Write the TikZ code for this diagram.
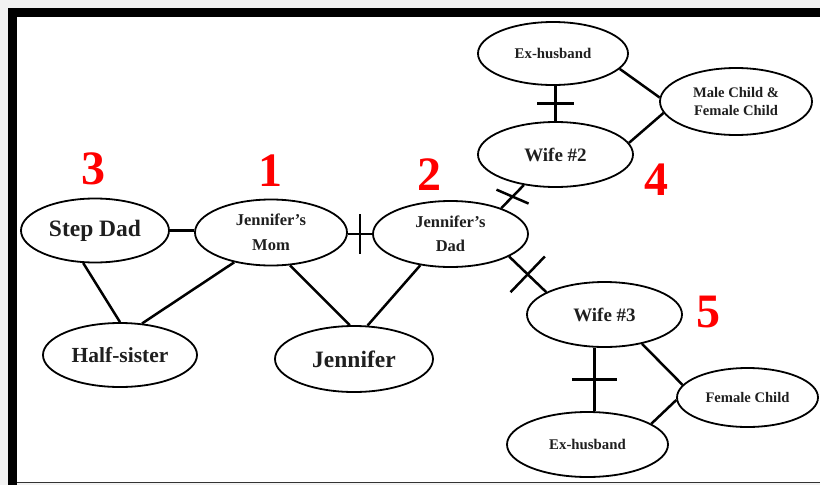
\documentclass[tikz,border=0pt]{standalone}
\usepackage{fontspec}
\setmainfont{Liberation Serif}
\usetikzlibrary{shapes.geometric,calc}
\tikzset{
  person/.style={ellipse, draw=black, line width=1.8pt, fill=white, inner sep=0pt,
    align=center, text=black!88, font=\bfseries},
  link/.style={line width=2.5pt, black},
  num/.style={inner sep=0pt, text=red, font=\bfseries\fontsize{48}{48}\selectfont},
}
\newcommand{\fs}[2]{\fontsize{#1}{#2}\selectfont}
\begin{document}
\begin{tikzpicture}[x=1pt,y=-1pt]
\useasboundingbox (0,0) rectangle (820,485);
% frame
\fill[gray!10] (0,0) rectangle (820,485);
\fill[white] (17,17) rectangle (820,482);
\fill[black] (8,8) rectangle (820,17);
\fill[black] (8,8) rectangle (17,485);
\draw[black!80, line width=1.2pt] (17,482.6) -- (820,482.6);

% nodes
\node[person, minimum width=148, minimum height=64, font=\bfseries\fs{23.5}{26}] (stepdad) at (95,230.5) {Step Dad};
\node[person, minimum width=152, minimum height=66, font=\bfseries\fs{16.5}{25}] (mom) at (271,232.5) {Jennifer’s\\Mom};
\node[person, minimum width=155, minimum height=66, font=\bfseries\fs{16.5}{24}] (dad) at (450.5,234) {Jennifer’s\\Dad};
\node[person, minimum width=154, minimum height=64, font=\bfseries\fs{21.5}{24}] (halfsister) at (120,355) {Half-sister};
\node[person, minimum width=158, minimum height=66, font=\bfseries\fs{23.5}{26}] (jennifer) at (354,359) {Jennifer};
\node[person, minimum width=150, minimum height=63, font=\bfseries\fs{14.8}{18}] (exh1) at (553,53.5) {Ex-husband};
\node[person, minimum width=152, minimum height=67, font=\bfseries\fs{14.6}{18.5}] (mfchild) at (736,101.5) {Male Child \&\\Female Child};
\node[person, minimum width=155, minimum height=65, font=\bfseries\fs{19}{22}] (wife2) at (555.5,154.5) {Wife \#2};
\node[person, minimum width=155, minimum height=65, font=\bfseries\fs{19}{22}] (wife3) at (604.5,314.5) {Wife \#3};
\node[person, minimum width=141, minimum height=59, font=\bfseries\fs{14.6}{18}] (fchild) at (747.5,397.5) {Female Child};
\node[person, minimum width=161, minimum height=65, font=\bfseries\fs{14.8}{18}] (exh2) at (587.5,444.5) {Ex-husband};

% numbers
\node[num] (n3) at (93.5,168.5) {3};
\node[num] (n1) at (270,171) {1};
\node[num] (n2) at (429,175) {2};
\node[num] (n4) at (656.5,180) {4};
\node[num] (n5) at (708.5,312.5) {5};

% connectors
\draw[link] (stepdad.east) -- (stepdad.east -| mom.west);
\draw[link] (stepdad.-110.6) -- (halfsister.90);
\draw[link] (mom.-141.7) -- (halfsister.55.5);
\draw[link] (mom.-60) -- (jennifer.97);
\draw[link] (dad.-134.1) -- (jennifer.68.5);

% mom - dad with tick
\draw[link] (dad.west -| mom.east) -- coordinate[pos=0.5] (t1) (dad.west);
\draw[link] ($(t1)+(0,-20)$) -- ($(t1)+(0,20)$);

% dad - wife2 with tick
\draw[link] (dad.27.9) -- coordinate[pos=0.5] (t2) (wife2.-136.8);
\draw[link] ($(t2)!17.5pt!-69:(wife2.-136.8)$) -- ($(t2)!17.5pt!111:(wife2.-136.8)$);

% dad - wife3 with tick
\draw[link] (dad.-21.6) -- coordinate[pos=0.5] (t3) (wife3.159.5);
\draw[link] ($(t3)!24.8pt!90:(wife3.159.5)$) -- ($(t3)!24.8pt!-90:(wife3.159.5)$);

% ex-husband 1 - wife2 with tick
\draw[link] (wife2.north) -- coordinate[pos=0.5] (t4) (wife2.north |- exh1.south);
\draw[link] ($(t4)+(-18.5,0)$) -- ($(t4)+(18.5,0)$);
\draw[link] (exh1.-13.8) -- (mfchild.177);
\draw[link] (wife2.9.5) -- (mfchild.-171.8);

% wife3 - ex-husband 2 with tick
\draw[link] (wife3.-107.9) -- coordinate[pos=0.5] (t5) (wife3.-107.9 |- exh2.north);
\draw[link] ($(t5)+(-22.5,0)$) -- ($(t5)+(22.5,0)$);
\draw[link] (wife3.-38.8) -- (fchild.169.2);
\draw[link] (exh2.18.4) -- (fchild.-178);
\end{tikzpicture}
\end{document}
